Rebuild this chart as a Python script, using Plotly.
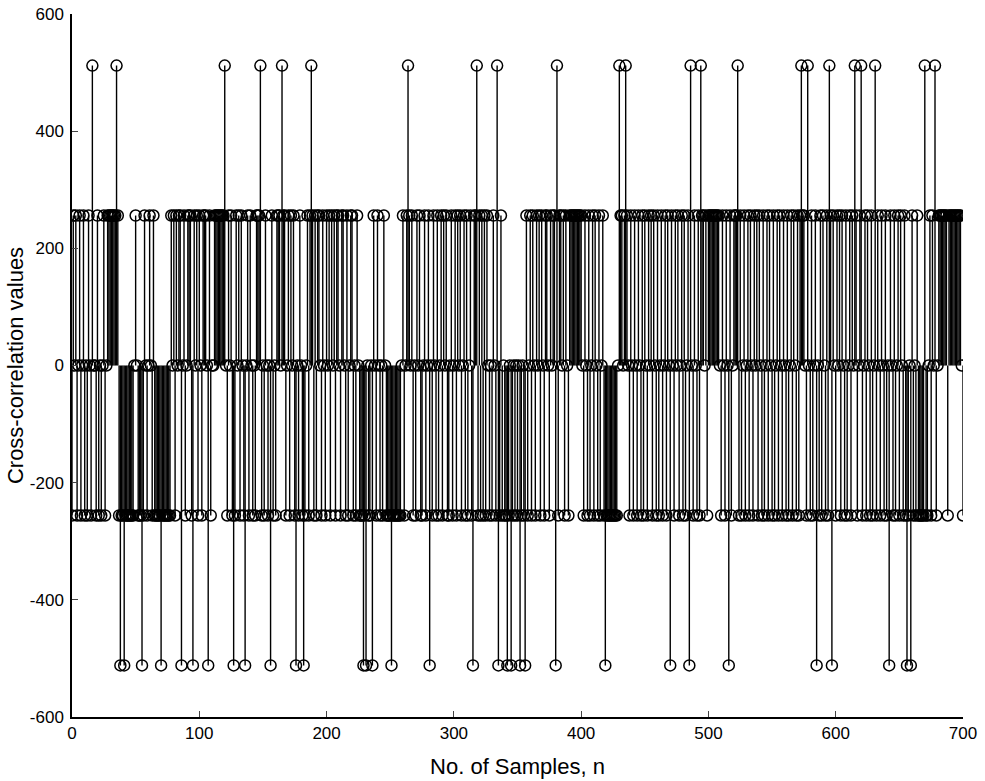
import plotly.graph_objects as go

# Level codes: p = 256, z = 0, m = -256 (one char per sample n = 0..700)
base_rows = [
    "mpzpmzpmzp mzmpzmpzzm pmzmzpmzpp pppppppmzm mmmmmmmmmz",  # 0-49
    "pzmmmmmpzm zpzmpmmmmm mmmmmmmmpz pmpzpppzpm zpppmppzpm",  # 50-99
    "pzmpppzppm zzpppppppp pzmpzpmzmp zpmpzmpzpm pzmzmpppzm",  # 100-149
    "zmpzmzmpmz mpppzpppmz pmpzpmpzmp zmpmzpmpmp mpmppzmpzm",  # 150-199
    "pzpmpzpmpp zmppzmpmzp pmzmpzmmmz mmzmmzmpzm pzmzmpzmmm",  # 200-249
    "mmmmmmmmmz pmzpmpzpmz mpzpmmzpmz pmzmpzmpmz pmpzpmmzpm",  # 250-299
    "zpmpzpmzpm pmzpmppppm pmpmpmpzmz mpzmmzmpmz mmzmzmmzmz",  # 300-349
    "mzmmzmzpmz pmpzmpzpmp zmppzmpzpp pzmppzpmpz mppppppppp",  # 350-399
    "pzmpzmpmzp mpzmpmzpmz mmmmmmmmmz pppzpmpzmp zmpzmpzmpm",  # 400-449
    "pzmpzpmpzm pmzpmzpmpz mpzmpzpmzp mpmzpmpzmp zmpmpppzpm",  # 450-499
    "pppppppppz mpzmpzmpmz pppzmpmzpm zpmpzmpzpm pzmpmzpmpz",  # 500-549
    "mpmzpmpzmp zmpmzpmpzm pmppppzmpz mpmzpmzmpm pzmpmzpmpz",  # 550-599
    "mpzpmpzmpm zpmpzppmzp pmzpmpzmpm zpmpzmpzmp mzmpzmpmzp",  # 600-649
    "mpzmpmzmzm pmzmpmmmmm mmmzpmpzpm zpppppppmp pppppppppz m",  # 650-700
]
level_map = {"p": 256, "z": 0, "m": -256}

# Samples that reach +512 and -512
pos_peaks = [16, 35, 120, 148, 165, 188, 264, 281, 318, 334, 381, 430, 435,
             486, 494, 523, 573, 578, 595, 615, 620, 631, 670, 678]
neg_peaks = [38, 41, 55, 70, 86, 95, 107, 127, 136, 156, 176, 182, 229, 231,
             236, 251, 281, 315, 335, 342, 345, 352, 356, 380, 419, 470, 485,
             516, 585, 597, 642, 656, 659]

codes = "".join(r.replace(" ", "") for r in base_rows)
values = [level_map[c] for c in codes]
for k in pos_peaks:
    values[k] = 512
for k in neg_peaks:
    values[k] = -512
n = list(range(len(values)))

x_ticks = [0, 100, 200, 300, 400, 500, 600, 700]
y_ticks = [-600, -400, -200, 0, 200, 400, 600]
y_tick_text = ["-600", "-400", "-200", "0", "200", "400", "600"]

stem_x, stem_y = [], []
for xi, yi in zip(n, values):
    stem_x += [xi, xi, None]
    stem_y += [0, yi, None]

fig = go.Figure()
fig.add_trace(go.Scatter(x=stem_x, y=stem_y, mode="lines",
                         line=dict(color="black", width=1.4), hoverinfo="skip",
                         showlegend=False))
fig.add_trace(go.Scatter(x=n, y=values, mode="markers",
                         marker=dict(symbol="circle-open", size=11,
                                     color="black", line=dict(width=1.5)),
                         showlegend=False))

fig.update_layout(
    width=985, height=781,
    margin=dict(l=72, r=22, t=14, b=64),
    paper_bgcolor="white", plot_bgcolor="white",
    font=dict(family="Liberation Sans, Arial, sans-serif", color="black", size=17),
)
fig.update_xaxes(range=[0, 700], tickvals=x_ticks, ticks="inside", ticklen=6,
                 showline=True, linecolor="black", linewidth=1.5, mirror=False,
                 showgrid=False, zeroline=False, automargin=False,
                 tickfont=dict(size=17),
                 title=dict(text="No. of Samples, n", font=dict(size=22), standoff=16))
fig.update_yaxes(range=[-600, 600], tickvals=y_ticks, ticktext=y_tick_text,
                 ticks="inside", ticklen=6, ticklabelstandoff=3,
                 showline=True, linecolor="black", linewidth=1.5, mirror=False,
                 showgrid=False, zeroline=False, automargin=False,
                 tickfont=dict(size=17),
                 title=dict(text="Cross-correlation values", font=dict(size=22), standoff=0))

fig.write_html("out.html")
